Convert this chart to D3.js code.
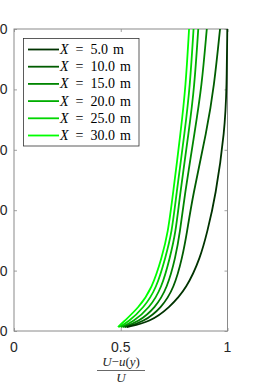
<!DOCTYPE html>
<html>
<head>
<meta charset="utf-8">
<script src="https://cdn.jsdelivr.net/npm/d3@7"></script>
<style>
  body { margin: 0; background: #fff; }
  svg { display: block; }
</style>
</head>
<body>
<svg id="chart" width="255" height="383"></svg>
<script>
var yLevels = [1.3, 3.0, 7.6, 14.2, 24.5, 32.5, 44.4, 66.6, 80.8, 100];
var yTicks = [0, 20, 40, 60, 80, 100];
var xTicks = [0, 0.5, 1];
var stations = ['5.0', '10.0', '15.0', '20.0', '25.0', '30.0'];
var colors = ['#003300', '#005c00', '#008500', '#00ad00', '#00d600', '#00ff00'];
var profX5 = [0.529, 0.637, 0.726, 0.810, 0.874, 0.904, 0.944, 0.988, 0.996, 0.999];
var profX10 = [0.520, 0.607, 0.690, 0.750, 0.789, 0.810, 0.836, 0.904, 0.937, 0.965];
var profX15 = [0.511, 0.582, 0.661, 0.718, 0.757, 0.777, 0.798, 0.848, 0.879, 0.903];
var profX20 = [0.501, 0.558, 0.634, 0.692, 0.731, 0.757, 0.776, 0.820, 0.845, 0.863];
var profX25 = [0.492, 0.535, 0.607, 0.668, 0.710, 0.739, 0.759, 0.801, 0.824, 0.841];
var profX30 = [0.487, 0.512, 0.583, 0.647, 0.693, 0.721, 0.743, 0.782, 0.804, 0.820];
var profiles = [profX5, profX10, profX15, profX20, profX25, profX30];

var svg = d3.select('#chart');
var pLeft = 14, pRight = 227.5, pTop = 29, pBottom = 331;
var axisColor = '#8a8a8a';

var x = d3.scaleLinear().domain([0, 1]).range([pLeft, pRight]);
var y = d3.scaleLinear().domain([0, 100]).range([pBottom, pTop]);

// axes box with inward ticks on all four sides
svg.append('g')
    .attr('transform', 'translate(0,' + pBottom + ')')
    .call(d3.axisBottom(x).tickValues(xTicks).tickSize(-3).tickFormat(''))
    .call(g => g.select('.domain').remove());
svg.append('g')
    .attr('transform', 'translate(0,' + pTop + ')')
    .call(d3.axisTop(x).tickValues(xTicks).tickSize(-3).tickFormat(''))
    .call(g => g.select('.domain').remove());
svg.append('g')
    .attr('transform', 'translate(' + pLeft + ',0)')
    .call(d3.axisLeft(y).tickValues(yTicks).tickSize(-3).tickFormat(''))
    .call(g => g.select('.domain').remove());
svg.append('g')
    .attr('transform', 'translate(' + pRight + ',0)')
    .call(d3.axisRight(y).tickValues(yTicks).tickSize(-3).tickFormat(''))
    .call(g => g.select('.domain').remove());
svg.selectAll('.tick line').attr('stroke', axisColor).attr('stroke-width', 0.8);

svg.append('rect')
    .attr('x', pLeft).attr('y', pTop)
    .attr('width', pRight - pLeft).attr('height', pBottom - pTop)
    .attr('fill', 'none').attr('stroke', axisColor).attr('stroke-width', 1);

// tick labels (the y labels run off the left edge, as in the original figure)
svg.selectAll('.xlab').data(xTicks).enter().append('text')
    .attr('x', d => x(d)).attr('y', 352)
    .attr('text-anchor', 'middle')
    .style('font-family', 'Liberation Sans, Arial, sans-serif')
    .style('font-size', '14px').attr('fill', '#262626')
    .text(d => d3.format('~g')(d));
svg.selectAll('.ylab').data(yTicks).enter().append('text')
    .attr('x', 7.5).attr('y', d => y(d) + 5)
    .attr('text-anchor', 'end')
    .style('font-family', 'Liberation Sans, Arial, sans-serif')
    .style('font-size', '14px').attr('fill', '#262626')
    .text(d => d);

// profiles
var line = d3.line()
    .x(d => x(d[0]))
    .y(d => y(d[1]))
    .curve(d3.curveBasis);

svg.append('g').selectAll('path')
    .data(profiles.map((p, i) => ({ pts: p.map((v, j) => [v, yLevels[j]]), c: colors[i] })).reverse())
    .enter().append('path')
    .attr('d', d => line(d.pts))
    .attr('fill', 'none')
    .attr('stroke', d => d.c)
    .attr('stroke-width', 1.8);

// legend
var lg = svg.append('g');
lg.append('rect')
    .attr('x', 23.5).attr('y', 38.5).attr('width', 115.5).attr('height', 107.5)
    .attr('fill', '#fff').attr('stroke', '#333').attr('stroke-width', 0.8);
var rowY = d3.scaleLinear().domain([0, 5]).range([49.5, 135.5]);
stations.forEach(function (s, i) {
    var yy = rowY(i);
    lg.append('line')
        .attr('x1', 28).attr('x2', 59).attr('y1', yy).attr('y2', yy)
        .attr('stroke', colors[i]).attr('stroke-width', 1.8);
    var t = lg.append('text')
        .attr('x', 60).attr('y', yy + 4.5)
        .style('font-family', 'Liberation Serif, Times New Roman, serif')
        .style('font-size', '14px').attr('fill', '#000');
    t.append('tspan').style('font-style', 'italic').text('X');
    t.append('tspan').attr('dx', 7).text('=');
    t.append('tspan').attr('dx', 7).text(s);
    t.append('tspan').attr('dx', 5).text('m');
});

// x label as a fraction
var xl = svg.append('g')
    .style('font-family', 'Liberation Serif, Times New Roman, serif')
    .style('font-size', '13px').attr('fill', '#262626');
var num = xl.append('text').attr('x', 121).attr('y', 366).attr('text-anchor', 'middle');
num.append('tspan').style('font-style', 'italic').text('U');
num.append('tspan').text('\u2212');
num.append('tspan').style('font-style', 'italic').text('u');
num.append('tspan').text('(');
num.append('tspan').style('font-style', 'italic').text('y');
num.append('tspan').text(')');
xl.append('line')
    .attr('x1', 97).attr('x2', 145).attr('y1', 370.5).attr('y2', 370.5)
    .attr('stroke', '#262626').attr('stroke-width', 0.7);
xl.append('text').attr('x', 121).attr('y', 382)
    .attr('text-anchor', 'middle').style('font-style', 'italic').text('U');
</script>
</body>
</html>
